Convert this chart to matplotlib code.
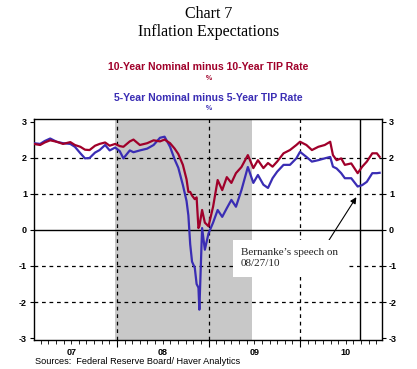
import matplotlib
matplotlib.use("Agg")
import matplotlib.pyplot as plt
import numpy as np

# ---- data (decimal years) ----
t = [2007.09, 2007.16, 2007.21, 2007.27, 2007.34, 2007.41, 2007.49, 2007.54, 2007.60, 2007.65,
     2007.70, 2007.76, 2007.81, 2007.87, 2007.92, 2007.98, 2008.03, 2008.07, 2008.14, 2008.18,
     2008.25, 2008.33, 2008.40, 2008.47, 2008.52, 2008.58, 2008.63, 2008.67, 2008.72, 2008.76,
     2008.78, 2008.80, 2008.82, 2008.85, 2008.87, 2008.89, 2008.90, 2008.93, 2008.96, 2009.00,
     2009.05, 2009.10, 2009.15, 2009.20, 2009.25, 2009.30, 2009.36, 2009.43, 2009.49, 2009.54,
     2009.60, 2009.65, 2009.70, 2009.75, 2009.82, 2009.89, 2009.96, 2010.00, 2010.07, 2010.13,
     2010.20, 2010.27, 2010.33, 2010.36, 2010.40, 2010.45, 2010.49, 2010.56, 2010.63, 2010.68,
     2010.73, 2010.79, 2010.84, 2010.87]
ten_year = [2.38, 2.35, 2.42, 2.48, 2.44, 2.38, 2.43, 2.35, 2.30, 2.22,
            2.21, 2.33, 2.38, 2.42, 2.33, 2.38, 2.32, 2.30, 2.45, 2.50,
            2.35, 2.40, 2.48, 2.45, 2.50, 2.40, 2.25, 2.10, 1.80, 1.40,
            1.05, 1.05, 0.95, 0.85, 0.90, 0.05, 0.10, 0.55, 0.20, 0.10,
            0.64, 1.38, 1.10, 1.46, 1.30, 1.57, 1.74, 2.07, 1.71, 1.93,
            1.71, 1.85, 1.75, 1.89, 2.12, 2.21, 2.35, 2.44, 2.35, 2.21,
            2.30, 2.35, 2.44, 2.07, 1.93, 1.98, 1.80, 1.84, 1.57, 1.75,
            1.89, 2.12, 2.12, 2.02]
five_year = [2.40, 2.38, 2.46, 2.53, 2.44, 2.40, 2.38, 2.30, 2.12, 1.98,
             1.99, 2.14, 2.21, 2.35, 2.20, 2.28, 2.18, 1.98, 2.20, 2.15,
             2.20, 2.25, 2.35, 2.55, 2.58, 2.30, 1.95, 1.72, 1.24, 0.80,
             0.40, -0.40, -0.88, -1.05, -1.50, -1.60, -2.21, 0.05, -0.55, -0.10,
             0.20, 0.55, 0.36, 0.60, 0.83, 0.64, 1.10, 1.74, 1.30, 1.52,
             1.25, 1.16, 1.43, 1.61, 1.80, 1.80, 1.98, 2.16, 2.02, 1.89,
             1.93, 1.98, 2.02, 1.75, 1.70, 1.57, 1.43, 1.43, 1.20, 1.24,
             1.33, 1.57, 1.57, 1.58]
year_labels = ["07", "08", "09", "10"]
years = [2007, 2008, 2009, 2010]
recession = (2007.98, 2009.47)
speech_date = 2010.652
yticks = [-3, -2, -1, 0, 1, 2, 3]

RED = "#a0002a"
BLUE = "#3a2db4"

fig = plt.figure(figsize=(4.17, 3.69), dpi=100)
ax = fig.add_axes([34/417, 1-340/369, (382-34)/417, (340-119)/369])

ax.axvspan(*recession, color="#c8c8c8", lw=0, zorder=0)
for y in [-2, -1, 1, 2]:
    ax.axhline(y, color="black", lw=0.9, ls=(0, (3, 3)), zorder=1)
ax.axhline(0, color="black", lw=1.0, zorder=1)
for yr in years[1:]:
    ax.axvline(yr, color="black", lw=0.9, ls=(0, (3, 3)), zorder=1)
ax.axvline(speech_date, color="black", lw=1.0, zorder=1)

ax.plot(t, five_year, color=BLUE, lw=1.6, zorder=3)
ax.plot(t, ten_year, color=RED, lw=1.6, zorder=4)

ax.set_xlim(2007.093, 2010.896)
ax.set_ylim(-3.05, 3.07)

# ticks
ax.set_yticks(yticks)
ax.set_yticklabels([str(v) for v in yticks], fontsize=6.5, fontweight="bold", family="Liberation Sans")
ax.tick_params(axis="y", which="both", left=True, right=True, labelleft=True, labelright=True,
               direction="out", length=3, width=0.8, pad=2)
months = [yr + m/12 for yr in [2007, 2008, 2009, 2010] for m in range(12)]
ax.set_xticks([m for m in months if 2007.093 <= m <= 2010.896], minor=True)
ax.set_xticks(years[1:])
ax.set_xticklabels([])
ax.tick_params(axis="x", which="major", direction="out", length=5, width=0.8)
ax.tick_params(axis="x", which="minor", direction="out", length=3, width=0.6)
for yr, lab in zip(years, year_labels):
    ax.text(yr + 0.5, -0.035, lab, transform=ax.get_xaxis_transform(), ha="center", va="top",
            fontsize=6.5, fontweight="bold", family="Liberation Sans")
for s in ax.spines.values():
    s.set_linewidth(1.0)

# annotation box
ax.annotate("", xy=(speech_date - 0.02, 0.97), xytext=(2010.27, -0.47),
            arrowprops=dict(arrowstyle="-|>", color="black", lw=0.8, mutation_scale=9), zorder=6)
ax.text(2009.355, -0.79, "Bernanke’s speech on\n08/27/10",
        fontsize=8, family="Liberation Serif", color="#222222", ha="left", va="center",
        linespacing=1.3, zorder=7,
        bbox=dict(boxstyle="square,pad=0.75", fc="white", ec="none"))

# titles
fig.text(0.5, 1-14/369, "Chart 7", ha="center", va="center", fontsize=11.5, family="Liberation Serif")
fig.text(0.5, 1-32/369, "Inflation Expectations", ha="center", va="center", fontsize=11.5, family="Liberation Serif")
fig.text(0.5, 1-67/369, "10-Year Nominal minus 10-Year TIP Rate", ha="center", va="center",
         fontsize=7.6, fontweight="bold", color=RED, family="Liberation Sans")
fig.text(0.5, 1-78/369, "%", ha="center", va="center", fontsize=5, fontweight="bold", color=RED, family="Liberation Sans")
fig.text(0.5, 1-98/369, "5-Year Nominal minus 5-Year TIP Rate", ha="center", va="center",
         fontsize=7.6, fontweight="bold", color=BLUE, family="Liberation Sans")
fig.text(0.5, 1-108/369, "%", ha="center", va="center", fontsize=5, fontweight="bold", color=BLUE, family="Liberation Sans")
fig.text(35/417, 1-361/369, "Sources:  Federal Reserve Board/ Haver Analytics", ha="left", va="center",
         fontsize=6.6, family="Liberation Sans")

fig.savefig("out.png", dpi=100)
